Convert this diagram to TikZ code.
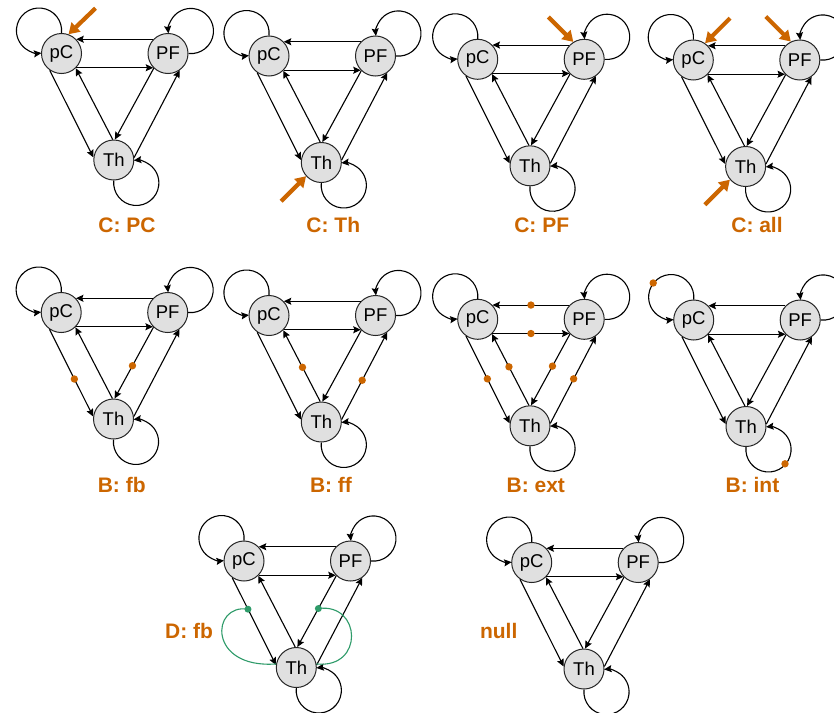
\documentclass[tikz,border=0pt]{standalone}
\usepackage{fontspec}
\setmainfont{Liberation Sans}
\usetikzlibrary{arrows.meta,calc}
\definecolor{hot}{RGB}{204,102,0}
\definecolor{leaf}{RGB}{46,155,105}
\definecolor{cellfill}{RGB}{224,224,224}

\tikzset{
  st/.style={circle, draw=black!85, fill=cellfill, line width=1pt,
    minimum size=40pt, inner sep=0pt, font=\fontsize{18.5}{20}\selectfont},
  ed/.style={draw=black, line width=1.1pt,
    -{Stealth[length=7.5pt,width=7pt,inset=1.2pt]}},
  cue/.style={draw=hot, line width=4.2pt, -{Triangle[length=10.5pt,width=12.5pt]}},
  tag/.style={text=hot, font=\fontsize{21}{24}\selectfont\bfseries},
  odot/.style={fill=hot},
  gdot/.style={fill=leaf},
  gpath/.style={draw=leaf, line width=1.1pt},
}

% three-node motif: #1 prefix, (#2,#3) centre of pC
\newcommand\triad[3]{%
  \begin{scope}[shift={(#2,#3)}]
    \node[st] (#1C) at (0,0) {pC};
    \node[st] (#1F) at (106.5,0) {PF};
    \node[st] (#1T) at (52.3,106.5) {Th};
  \end{scope}
  \draw[ed] (#1F.136) -- (#1C.44);
  \draw[ed] (#1C.-44) -- (#1F.-136);
  \draw[ed] (#1C.-125) -- (#1T.173);
  \draw[ed] (#1T.93) -- (#1C.-46);
  \draw[ed] (#1F.-134) -- (#1T.87);
  \draw[ed] (#1T.7) -- (#1F.-55);
  % self loops
  \draw[ed] (#1C.90) arc[start angle=6.1, end angle=-276.1, radius=22.6];
  \draw[ed] (#1F.0) arc[start angle=96.1, end angle=-186.1, radius=22.6];
  \draw[ed] (#1T.270) arc[start angle=186.1, end angle=-96.1, radius=22.6];
}

\begin{document}
\begin{tikzpicture}[x=1pt, y=-1pt]
\fill[white] (0,0) rectangle (834,712);
\useasboundingbox (0,0) rectangle (834,712);

% row 1
\triad{p1}{61.5}{53.5}
\triad{p2}{269}{56}
\triad{p3}{477.7}{59.3}
\triad{p4}{693.3}{60}
% row 2
\triad{p5}{61.2}{312.5}
\triad{p6}{269}{315.5}
\triad{p7}{477.7}{319.3}
\triad{p8}{693.7}{320}
% row 3
\triad{p9}{244}{561}
\triad{p10}{531.7}{562.5}

% panel labels
\node[tag] (l1) at (127,225) {C: PC};
\node[tag] (l2) at (333.3,225) {C: Th};
\node[tag] (l3) at (541.7,225) {C: PF};
\node[tag] (l4) at (757,225) {C: all};
\node[tag] (l5) at (121.7,485) {B: fb};
\node[tag] (l6) at (331,485) {B: ff};
\node[tag] (l7) at (535.8,485) {B: ext};
\node[tag] (l8) at (752.5,485) {B: int};
\node[tag] (l9) at (189,631) {D: fb};
\node[tag] (l10) at (498.7,631) {null};

% stimulation cues
\coordinate (c1) at ($(p1C.70)+(27,-26)$);
\draw[cue] (c1) -- (p1C.70);
\coordinate (c2) at ($(p2T.-138)+(-25,25)$);
\draw[cue] (c2) -- (p2T.-138);
\coordinate (c3) at ($(p3F.122)+(-25,-25)$);
\draw[cue] (c3) -- (p3F.122);
\coordinate (c4a) at ($(p4C.55)+(25,-25)$);
\draw[cue] (c4a) -- (p4C.55);
\coordinate (c4b) at ($(p4F.116)+(-25,-25)$);
\draw[cue] (c4b) -- (p4F.116);
\coordinate (c4c) at ($(p4T.-140)+(-25,25)$);
\draw[cue] (c4c) -- (p4T.-140);

% blocked connections
\fill[odot] ($(p5C.-125)!0.57!(p5T.173)$) circle (3.7);
\fill[odot] ($(p5F.-134)!0.54!(p5T.87)$) circle (3.7);

\fill[odot] ($(p6T.93)!0.48!(p6C.-46)$) circle (3.7);
\fill[odot] ($(p6T.7)!0.45!(p6F.-55)$) circle (3.7);

\fill[odot] ($(p7F.136)!0.5!(p7C.44)$) circle (3.7);
\fill[odot] ($(p7C.-44)!0.5!(p7F.-136)$) circle (3.7);
\fill[odot] ($(p7C.-125)!0.49!(p7T.173)$) circle (3.7);
\fill[odot] ($(p7T.93)!0.54!(p7C.-46)$) circle (3.7);
\fill[odot] ($(p7F.-134)!0.45!(p7T.87)$) circle (3.7);
\fill[odot] ($(p7T.7)!0.51!(p7F.-55)$) circle (3.7);

\fill[odot] ($(p8C)+(-40.5,-37)$) circle (3.7);
\fill[odot] ($(p8T)+(39,37.3)$) circle (3.7);

% feedback bypass
\coordinate (g1) at ($(p9C.-125)!0.36!(p9T.173)$);
\coordinate (g2) at ($(p9F.-134)!0.46!(p9T.87)$);
\draw[gpath] (g1) .. controls +(-37,-6) and +(-69,5) .. (p9T.170);
\draw[gpath] (g2) .. controls +(43,-6) and +(48,5) .. (p9T.10);
\fill[gdot] (g1) circle (3.5);
\fill[gdot] (g2) circle (3.5);
\end{tikzpicture}
\end{document}
